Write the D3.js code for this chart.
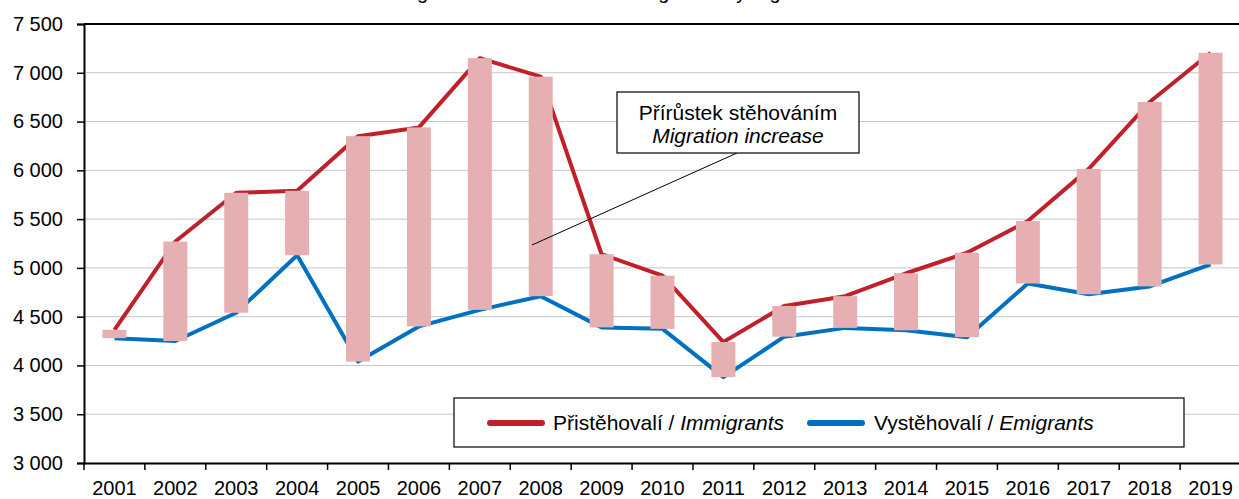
<!DOCTYPE html>
<html>
<head>
<meta charset="utf-8">
<script src="https://cdn.jsdelivr.net/npm/d3@7"></script>
<style>
  body { margin: 0; background: #fff; }
  svg { display: block; font-family: "Liberation Sans", Arial, sans-serif; }
</style>
</head>
<body>
<div class="chart"></div>
<script>
const years = ['2001','2002','2003','2004','2005','2006','2007','2008','2009','2010',
  '2011','2012','2013','2014','2015','2016','2017','2018','2019']
const immigrants = [4365, 5270, 5770, 5790, 6350, 6440, 7150, 6960, 5140, 4920,
  4240, 4610, 4710, 4945, 5155, 5480, 6015, 6700, 7205]
const emigrants = [4280, 4250, 4540, 5130, 4040, 4400, 4570, 4710, 4390, 4375,
  3880, 4295, 4385, 4360, 4290, 4840, 4730, 4810, 5035]
const yTicks = [3000, 3500, 4000, 4500, 5000, 5500, 6000, 6500, 7000, 7500]

const width = 1239
const height = 499
const margin = { left: 84, top: 24, right: -2, bottom: 36 }

const svg = d3.select('.chart')
  .append('svg')
  .attr('width', width)
  .attr('height', height)

// title, cut off at the top of the picture (only descenders show)
svg.append('text')
  .attr('x', 396)
  .attr('y', -1)
  .attr('font-size', 20)
  .text('Migration increase and net migration by region')

const xScale = d3.scaleBand()
  .domain(years)
  .range([margin.left, width - margin.right])

const yScale = d3.scaleLinear()
  .domain([3000, 7500])
  .range([height - margin.bottom, margin.top])

const fmt = d => d3.format(',')(d).replace(',', ' ')

// gridlines
svg.append('g')
  .selectAll('line')
  .data(yTicks.slice(1, -1))
  .enter()
  .append('line')
  .attr('x1', margin.left)
  .attr('x2', width)
  .attr('y1', d => yScale(d))
  .attr('y2', d => yScale(d))
  .attr('stroke', '#c6c6c6')
  .attr('stroke-width', 1)

// top frame line
svg.append('line')
  .attr('x1', margin.left)
  .attr('x2', width)
  .attr('y1', yScale(7500))
  .attr('y2', yScale(7500))
  .attr('stroke', '#000')
  .attr('stroke-width', 2)

const cx = d => xScale(d) + xScale.bandwidth() / 2

const line = d3.line()
  .x((d, i) => cx(years[i]))
  .y(d => yScale(d))

svg.append('path')
  .datum(emigrants)
  .attr('d', line)
  .attr('fill', 'none')
  .attr('stroke', '#0070c0')
  .attr('stroke-width', 4)
  .attr('stroke-linejoin', 'round')

svg.append('path')
  .datum(immigrants)
  .attr('d', line)
  .attr('fill', 'none')
  .attr('stroke', '#c0202a')
  .attr('stroke-width', 4)
  .attr('stroke-linejoin', 'round')

// migration increase bars
const barW = 24
svg.append('g')
  .selectAll('rect')
  .data(years)
  .enter()
  .append('rect')
  .attr('x', d => cx(d) - barW / 2)
  .attr('y', (d, i) => yScale(immigrants[i]))
  .attr('width', barW)
  .attr('height', (d, i) => yScale(emigrants[i]) - yScale(immigrants[i]))
  .attr('fill', '#e6afb2')

// axes
const yAxis = d3.axisLeft(yScale).tickValues(yTicks).tickFormat(fmt).tickSize(7).tickPadding(14)
const gy = svg.append('g')
  .attr('transform', `translate(${margin.left},0)`)
  .call(yAxis)
gy.select('.domain').attr('stroke', '#000').attr('stroke-width', 2)
gy.selectAll('.tick line').attr('stroke', '#000').attr('stroke-width', 1.5)
gy.selectAll('text').attr('font-size', 20).attr('fill', '#000')
  .attr('font-family', '"Liberation Sans", Arial, sans-serif')

const xAxis = d3.axisBottom(xScale).tickSize(0).tickPadding(18)
const gx = svg.append('g')
  .attr('transform', `translate(0,${height - margin.bottom})`)
  .call(xAxis)
gx.select('.domain').attr('stroke', '#000').attr('stroke-width', 2)
gx.selectAll('text').attr('font-size', 20).attr('fill', '#000')
  .attr('font-family', '"Liberation Sans", Arial, sans-serif')

// category boundary ticks
svg.append('g')
  .selectAll('line')
  .data(years)
  .enter()
  .append('line')
  .attr('x1', d => xScale(d))
  .attr('x2', d => xScale(d))
  .attr('y1', height - margin.bottom)
  .attr('y2', height - margin.bottom + 7)
  .attr('stroke', '#000')
  .attr('stroke-width', 1.5)

// annotation
svg.append('line')
  .attr('x1', 737).attr('y1', 153)
  .attr('x2', 532).attr('y2', 245)
  .attr('stroke', '#000')
  .attr('stroke-width', 1)

svg.append('rect')
  .attr('x', 617).attr('y', 92)
  .attr('width', 242).attr('height', 61)
  .attr('fill', '#fff')
  .attr('stroke', '#000')
  .attr('stroke-width', 1.2)

svg.append('text')
  .attr('x', 738).attr('y', 120)
  .attr('text-anchor', 'middle')
  .attr('font-size', 21)
  .text('Přírůstek stěhováním')

svg.append('text')
  .attr('x', 738).attr('y', 143)
  .attr('text-anchor', 'middle')
  .attr('font-size', 21)
  .attr('font-style', 'italic')
  .text('Migration increase')

// legend
const legend = svg.append('g')
legend.append('rect')
  .attr('x', 454).attr('y', 398)
  .attr('width', 730).attr('height', 49)
  .attr('fill', '#fff')
  .attr('stroke', '#000')
  .attr('stroke-width', 1.2)

const legItems = [
  { x: 490, tx: 553, color: '#c0202a', cz: 'Přistěhovalí / ', en: 'Immigrants' },
  { x: 810, tx: 874, color: '#0070c0', cz: 'Vystěhovalí / ', en: 'Emigrants' }
]
legItems.forEach(it => {
  legend.append('line')
    .attr('x1', it.x).attr('x2', it.x + 52)
    .attr('y1', 423).attr('y2', 423)
    .attr('stroke', it.color)
    .attr('stroke-width', 6)
    .attr('stroke-linecap', 'round')
  const t = legend.append('text')
    .attr('x', it.tx).attr('y', 430)
    .attr('font-size', 21)
  t.append('tspan').text(it.cz)
  t.append('tspan').attr('font-style', 'italic').text(it.en)
})
</script>
</body>
</html>
